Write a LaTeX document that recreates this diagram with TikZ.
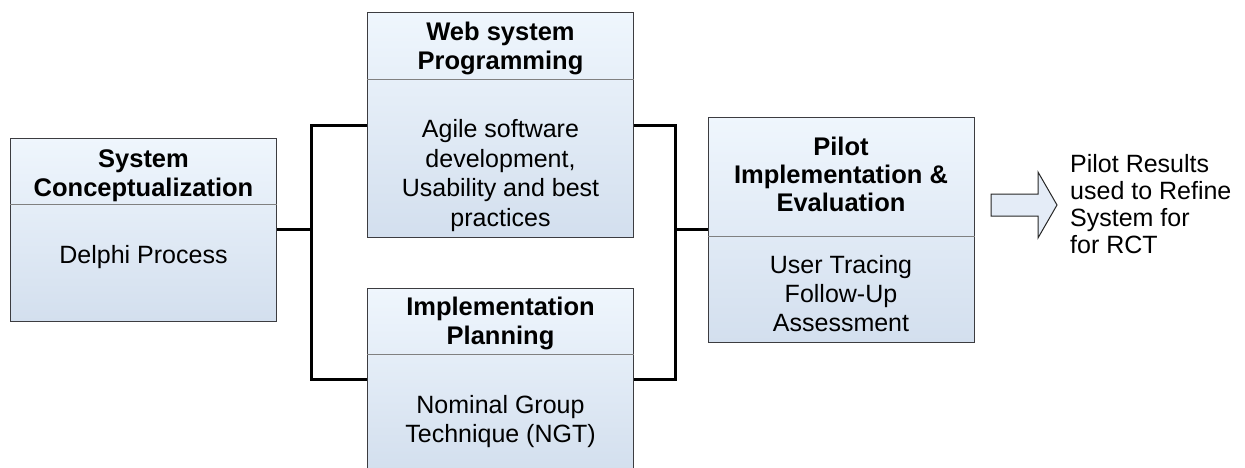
\documentclass[tikz,border=0pt]{standalone}
\usepackage{fontspec}
\setmainfont{Liberation Sans}
\usetikzlibrary{positioning,calc}
\definecolor{boxtop}{RGB}{239,246,253}
\definecolor{boxbot}{RGB}{211,223,238}
\definecolor{boxline}{RGB}{60,60,64}
\definecolor{divline}{RGB}{128,128,128}
\definecolor{arrowfill}{RGB}{228,236,247}

\begin{document}
\begin{tikzpicture}[x=1pt,y=1pt,
  stage/.style={draw=boxline,line width=1pt,top color=boxtop,bottom color=boxbot,
    minimum width=266pt,inner sep=0pt},
  head/.style={font=\bfseries\fontsize{25.5}{29}\selectfont,align=center,inner sep=0pt},
  body/.style={font=\fontsize{25}{29}\selectfont,align=center,inner sep=0pt},
  divider/.style={draw=divline,line width=1pt},
  link/.style={line width=3pt,line join=miter}]
  \useasboundingbox (0,0) rectangle (1245,467);
  % the four stages
  \node (concept) [stage,minimum height=183pt] at (143.5,237.5) {};
  \node (web) [stage,minimum height=224pt] at (500.5,342) {};
  \node (plan) [stage,minimum height=182pt] at (500.5,88) {};
  \node (pilot) [stage,minimum height=225pt] at (841,237.5) {};
  \foreach \b/\h in {concept/67,web/67,plan/67,pilot/120}
    \draw[divider] ([yshift=-\h pt]\b.north west) -- ([yshift=-\h pt]\b.north east);
  \node (concept-head) [head] at ([yshift=-38pt]concept.north) {System\\Conceptualization};
  \node (concept-body) [body] at ([yshift=-120pt]concept.north) {Delphi Process};
  \node (web-head) [head] at ([yshift=-36pt]web.north) {Web system\\Programming};
  \node (web-body) [body,font=\fontsize{25}{29.5}\selectfont] at ([yshift=-163pt]web.north)
    {Agile software\\development,\\Usability and best\\practices};
  \node (plan-head) [head] at ([yshift=-36pt]plan.north) {Implementation\\Planning};
  \node (plan-body) [body] at ([yshift=-134pt]plan.north) {Nominal Group\\Technique (NGT)};
  \node (pilot-head) [head,font=\bfseries\fontsize{25.5}{28}\selectfont] at ([yshift=-58pt]pilot.north)
    {Pilot\\Implementation \&\\Evaluation};
  \node (pilot-body) [body] at ([yshift=-177pt]pilot.north)
    {User Tracing\\Follow-Up\\Assessment};
  % connectors
  \draw[link] (concept.east) -- ++(34,0) coordinate (fork);
  \draw[link] (web.west) -| (fork) |- (plan.west);
  \draw[link] (web.east) -- ++(41,0) coordinate (join) |- (plan.east);
  \draw[link] (join |- pilot.west) -- (pilot.west);
  % outcome
  \node (result) [body,font=\fontsize{25}{27}\selectfont,align=left,anchor=west] at (1070,262.5)
    {Pilot Results\\used to Refine\\System for\\for RCT};
  \draw[draw=black!85,fill=arrowfill,line width=1pt,line join=miter]
    (991,251) -- (1038,251) -- (1038,229) -- (1057,262) -- (1038,295)
    -- (1038,273) -- (991,273) -- cycle;
\end{tikzpicture}
\end{document}
